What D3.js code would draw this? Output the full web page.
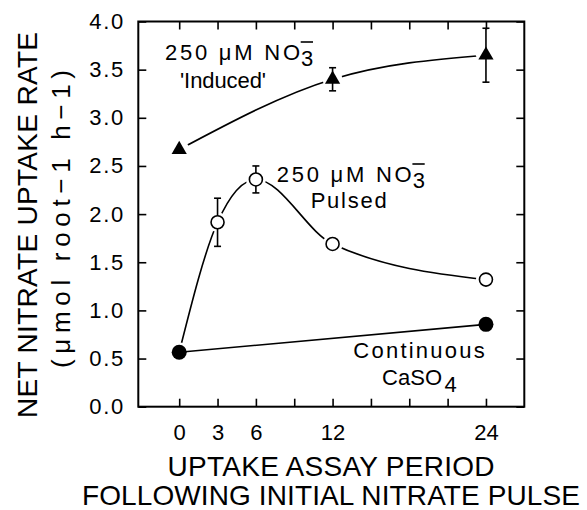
<!DOCTYPE html>
<html><head><meta charset="utf-8">
<script src="https://cdn.jsdelivr.net/npm/d3@7"></script>
<style>
html,body{margin:0;padding:0;background:#fff;}
svg{display:block;}
text{font-family:"Liberation Sans",Arial,Helvetica,sans-serif;fill:#000;}
</style></head>
<body>
<svg id="chart" width="587" height="510"></svg>
<script>
// ---- data ----
const xTicks = [0, 3, 6, 9, 12, 15, 18, 21, 24];
const xTickLabels = [0, 3, 6, 12, 24];
const yTicks = [0, 0.5, 1.0, 1.5, 2.0, 2.5, 3.0, 3.5, 4.0];

const inducedHours = [0, 12, 24];
const inducedRate = [2.67, 3.40, 3.65];
const inducedErr = [0, 0.12, 0.28];

const pulsedHours = [0, 3, 6, 12, 24];
const pulsedRate = [0.565, 1.915, 2.36, 1.69, 1.32];
const pulsedErr = [0, 0.25, 0.14, 0, 0];

const contHours = [0, 24];
const contRate = [0.565, 0.855];

// ---- layout ----
const svg = d3.select("#chart");
const L = 138.3, R = 524.3, T = 21.5, B = 406.7;
const x = d3.scaleLinear().domain([-3.2, 27]).range([L, R]);
const y = d3.scaleLinear().domain([0, 4]).range([B, T]);

const zip = (h, v, e) => h.map((d, i) => ({h: d, v: v[i], e: e ? e[i] : 0}));
const induced = zip(inducedHours, inducedRate, inducedErr);
const pulsed = zip(pulsedHours, pulsedRate, pulsedErr);
const cont = zip(contHours, contRate);

// axes
const fmt = d3.format(".1f");
const gB = svg.append("g").attr("transform", `translate(0,${B})`)
  .call(d3.axisBottom(x).tickValues(xTicks).tickSizeInner(-8).tickSizeOuter(0).tickPadding(18)
    .tickFormat(d => xTickLabels.includes(d) ? d : ""));
const gT = svg.append("g").attr("transform", `translate(0,${T})`)
  .call(d3.axisTop(x).tickValues(xTicks).tickSizeInner(-8).tickSizeOuter(0).tickFormat(""));
const gL = svg.append("g").attr("transform", `translate(${L},0)`)
  .call(d3.axisLeft(y).tickValues(yTicks).tickSizeInner(-8).tickSizeOuter(0).tickPadding(15).tickFormat(fmt));
const gR = svg.append("g").attr("transform", `translate(${R},0)`)
  .call(d3.axisRight(y).tickValues(yTicks).tickSizeInner(-8).tickSizeOuter(0).tickFormat(""));
[gB, gT, gL, gR].forEach(g => {
  g.select(".domain").remove();
  g.selectAll(".tick line").attr("stroke", "#000").attr("stroke-width", 1.6);
  g.selectAll(".tick text").attr("font-size", 22).attr("fill", "#000")
    .style("font-family", '"Liberation Sans",Arial,sans-serif');
});
gL.selectAll(".tick text").attr("textLength", 34).attr("lengthAdjust", "spacing");
svg.append("rect").attr("x", L).attr("y", T).attr("width", R - L).attr("height", B - T)
  .attr("fill", "none").attr("stroke", "#000").attr("stroke-width", 2);

// lines
const lineM = d3.line().x(d => x(d.h)).y(d => y(d.v)).curve(d3.curveMonotoneX);
const lineS = d3.line().x(d => x(d.h)).y(d => y(d.v));
svg.append("path").attr("d", lineM(induced)).attr("fill", "none").attr("stroke", "#000").attr("stroke-width", 1.6);
svg.append("path").attr("d", lineM(pulsed)).attr("fill", "none").attr("stroke", "#000").attr("stroke-width", 1.6);

// halos for gaps
const haloPts = [...induced, ...pulsed.slice(1), ...cont];
svg.append("g").selectAll("circle").data(haloPts).join("circle")
  .attr("cx", d => x(d.h)).attr("cy", d => y(d.v)).attr("r", 10).attr("fill", "#fff");

// continuous line touches its filled circles
svg.append("path").attr("d", lineS(cont)).attr("fill", "none").attr("stroke", "#000").attr("stroke-width", 1.6);

// error bars
const errPts = [...induced, ...pulsed].filter(d => d.e > 0);
const eg = svg.append("g").attr("stroke", "#000").attr("stroke-width", 1.6);
errPts.forEach(d => {
  const cx = x(d.h), y1 = y(d.v + d.e), y2 = y(d.v - d.e);
  eg.append("line").attr("x1", cx).attr("x2", cx).attr("y1", y1).attr("y2", y2);
  eg.append("line").attr("x1", cx - 3.5).attr("x2", cx + 3.5).attr("y1", y1).attr("y2", y1);
  eg.append("line").attr("x1", cx - 3.5).attr("x2", cx + 3.5).attr("y1", y2).attr("y2", y2);
});

// markers
const tri = d3.symbol().type(d3.symbolTriangle).size(100);
svg.append("g").selectAll("path").data(induced).join("path")
  .attr("d", tri).attr("transform", d => `translate(${x(d.h)},${y(d.v)})`).attr("fill", "#000");
svg.append("g").selectAll("circle").data(pulsed.slice(1)).join("circle")
  .attr("cx", d => x(d.h)).attr("cy", d => y(d.v)).attr("r", 6.5)
  .attr("fill", "#fff").attr("stroke", "#000").attr("stroke-width", 1.6);
svg.append("g").selectAll("circle").data(cont).join("circle")
  .attr("cx", d => x(d.h)).attr("cy", d => y(d.v)).attr("r", 7.5).attr("fill", "#000");

// annotations
function no3Label(x0, y0) {
  svg.append("text").attr("x", x0).attr("y", y0).attr("font-size", 22)
    .attr("textLength", 135).attr("lengthAdjust", "spacing").text("250 \u03BCM NO");
  svg.append("text").attr("x", x0 + 136).attr("y", y0 + 6).attr("font-size", 22).text("3");
  svg.append("line").attr("x1", x0 + 135.7).attr("x2", x0 + 148).attr("y1", y0 - 17.5).attr("y2", y0 - 17.5)
    .attr("stroke", "#000").attr("stroke-width", 1.6);
}
no3Label(165, 59.5);
svg.append("text").attr("x", 180).attr("y", 87.5).attr("font-size", 22)
  .attr("textLength", 86).attr("lengthAdjust", "spacing").text("'Induced'");
no3Label(276.7, 181.5);
svg.append("text").attr("x", 310.7).attr("y", 208).attr("font-size", 22)
  .attr("textLength", 76).attr("lengthAdjust", "spacing").text("Pulsed");
svg.append("text").attr("x", 353.3).attr("y", 358).attr("font-size", 22)
  .attr("textLength", 131.5).attr("lengthAdjust", "spacing").text("Continuous");
svg.append("text").attr("x", 382).attr("y", 385).attr("font-size", 22)
  .attr("textLength", 60).attr("lengthAdjust", "spacing").text("CaSO");
svg.append("text").attr("x", 444.5).attr("y", 392).attr("font-size", 22).text("4");

// axis titles
svg.append("text").attr("x", 331).attr("y", 476).attr("font-size", 28).attr("text-anchor", "middle")
  .attr("textLength", 327).attr("lengthAdjust", "spacing").text("UPTAKE ASSAY PERIOD");
svg.append("text").attr("x", 331).attr("y", 505).attr("font-size", 28).attr("text-anchor", "middle")
  .attr("textLength", 498).attr("lengthAdjust", "spacing").text("FOLLOWING INITIAL NITRATE PULSE");
svg.append("text").attr("transform", "translate(36.7,225) rotate(-90)").attr("font-size", 28)
  .attr("text-anchor", "middle").attr("textLength", 386).attr("lengthAdjust", "spacing")
  .text("NET NITRATE UPTAKE RATE");
svg.append("text").attr("transform", "translate(70,219) rotate(-90)").attr("font-size", 26)
  .attr("text-anchor", "middle").attr("textLength", 298).attr("lengthAdjust", "spacing")
  .text("(\u03BCmol root\u22121 h\u22121)");
</script>
</body></html>
